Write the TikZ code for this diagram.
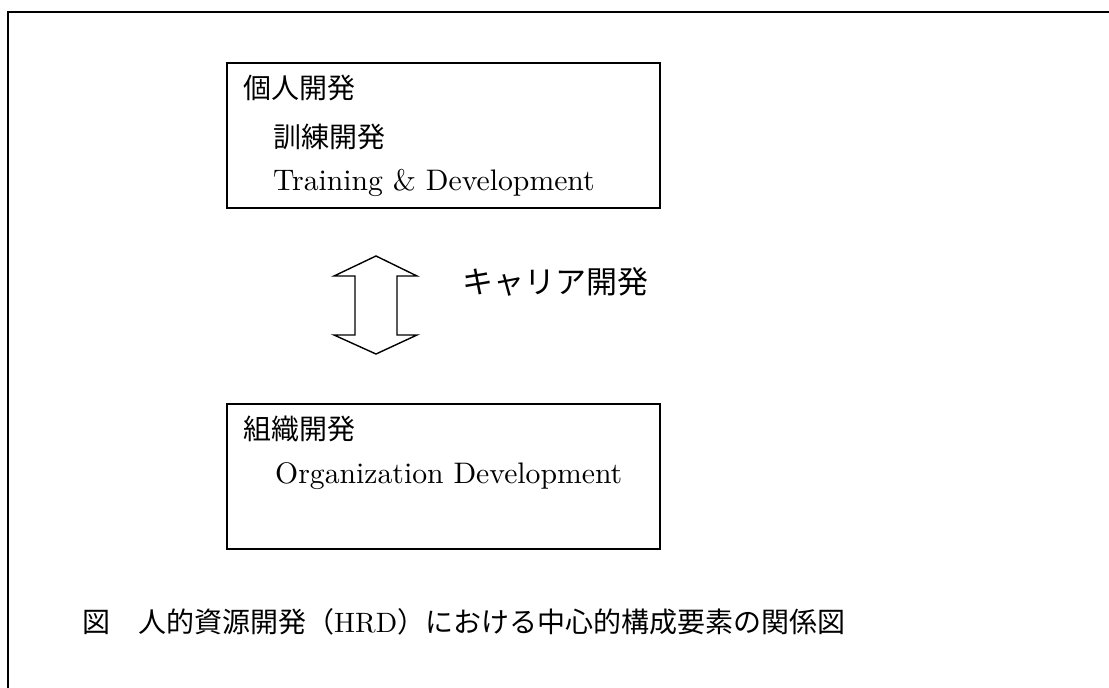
\documentclass[tikz,border=0pt]{standalone}
\usepackage{fontspec}
\setmainfont{lmroman10-regular}[Extension=.otf]
\newfontfamily\jp{Noto Sans CJK JP}
\begin{document}
\begin{tikzpicture}[x=1pt,y=-1pt,
  box/.style={draw=black, line width=1.6pt, minimum width=433pt, minimum height=145pt, anchor=north west, inner sep=0pt},
  jtext/.style={anchor=base west, inner sep=0pt, font=\jp\fontsize{28}{28}\selectfont},
  ltext/.style={anchor=base west, inner sep=0pt, font=\fontsize{29.7}{29.7}\selectfont},
  blockarrow/.style={draw=black, line width=1.4pt, fill=white, line join=miter}]
\useasboundingbox (0,0) rectangle (1109,688);
% outer frame (cut by the page at right and bottom)
\draw[line width=2pt] (1115,12) -- (8,12) -- (8,695);
% boxes
\node[box] (ind) at (226,62) {};
\node[box] (org) at (226,403) {};
% texts in top box
\node[jtext] (indjp) at (243,98) {個人開発};
\node[jtext] (tdjp) at (273,147) {訓練開発};
\node[ltext] (tden) at (273,190) {Training \& Development};
% texts in bottom box
\node[jtext] (orgjp) at (243,439) {組織開発};
\node[ltext] (orgen) at (275,483) {Organization Development};
% double block arrow
\draw[blockarrow] (376,256) -- (417,276) -- (397,276) -- (397,335) -- (417,335) -- (376,354)
  -- (334,335) -- (355,335) -- (355,276) -- (334,276) -- cycle;
\node[anchor=base west, inner sep=0pt, font=\jp\fontsize{31}{31}\selectfont] (career) at (462,293) {キャリア開発};
% caption
\node[anchor=base west, inner sep=0pt, font=\fontsize{28}{28}\selectfont] (cap) at (82,632)
  {{\jp 図　人的資源開発（}HRD{\jp ）における中心的構成要素の関係図}};
\end{tikzpicture}
\end{document}
